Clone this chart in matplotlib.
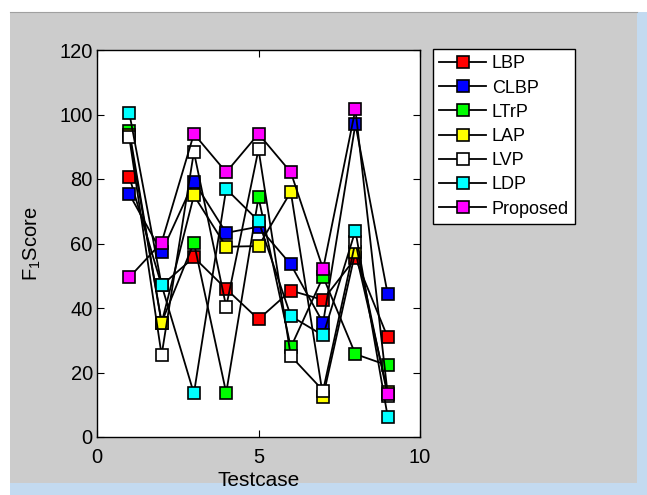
import matplotlib
matplotlib.use("Agg")
import matplotlib.pyplot as plt
from matplotlib.patches import Rectangle
from matplotlib.lines import Line2D

plt.rcParams['font.family'] = ['Liberation Sans', 'DejaVu Sans']
plt.rcParams['mathtext.default'] = 'regular'

testcases = [1, 2, 3, 4, 5, 6, 7, 8, 9]
series_names = ["LBP", "CLBP", "LTrP", "LAP", "LVP", "LDP", "Proposed"]
series_colors = ["#FF0000", "#0000FF", "#00FF00", "#FFFF00", "#FFFFFF", "#00FFFF", "#FF00FF"]

lbp      = [80.7, 47.0, 55.7, 45.9, 36.5, 45.4, 42.5, 55.5, 30.9]
clbp     = [75.3, 57.3, 79.2, 63.3, 65.2, 53.5, 35.4, 97.0, 44.3]
ltrp     = [95.0, 35.5, 60.3, 13.7, 74.3, 27.8, 49.7, 25.7, 22.2]
lap      = [93.5, 35.4, 74.9, 59.0, 59.2, 76.0, 12.5, 57.5, 14.0]
lvp      = [92.9, 25.4, 88.4, 40.4, 89.2, 25.1, 14.4, 60.5, 12.8]
ldp      = [100.5, 47.1, 13.5, 76.9, 67.0, 37.5, 31.5, 64.0, 6.3]
proposed = [49.5, 60.3, 94.0, 82.1, 94.0, 82.1, 52.1, 101.6, 13.3]

all_series = [lbp, clbp, ltrp, lap, lvp, ldp, proposed]

W, H = 647, 495
fig = plt.figure(figsize=(W / 100, H / 100), dpi=100, facecolor="white")

# window background (screenshot frame)
fig.patches.append(Rectangle((10 / W, 0), 627 / W, 483 / H, transform=fig.transFigure,
                             facecolor="#CCCCCC", edgecolor="none", zorder=-10))
fig.patches.append(Rectangle((10 / W, 0), 637 / W, 12 / H, transform=fig.transFigure,
                             facecolor="#C3DAF0", edgecolor="none", zorder=-10))
fig.patches.append(Rectangle((637 / W, 0), 10 / W, 483 / H, transform=fig.transFigure,
                             facecolor="#C3DAF0", edgecolor="none", zorder=-10))
fig.lines.append(Line2D([10 / W, 637 / W], [483 / H, 483 / H], transform=fig.transFigure,
                        color="#A0A0A0", linewidth=0.8))

ax = fig.add_axes([97 / W, (H - 437) / H, 323 / W, 387 / H])
ax.set_facecolor("white")

for name, color, vals in zip(series_names, series_colors, all_series):
    ax.plot(testcases, vals, color="black", linewidth=1.3, marker="s",
            markersize=8.5, markerfacecolor=color, markeredgecolor="black",
            markeredgewidth=1.2, label=name)

ax.set_xlim(0, 10)
ax.set_ylim(0, 120)
ax.set_xticks([0, 5, 10])
ax.set_yticks([0, 20, 40, 60, 80, 100, 120])
ax.tick_params(direction="in", length=5, width=0.8, top=True, right=True,
               labelsize=14.5)
ax.tick_params(axis="y", pad=3)
ax.tick_params(axis="x", pad=8)
for s in ax.spines.values():
    s.set_linewidth(1.0)

ax.set_xlabel("Testcase", fontsize=15, labelpad=3)
ax.set_ylabel(r"F$_1$Score", fontsize=14.5, labelpad=12)

leg = ax.legend(loc="upper left", bbox_to_anchor=(433 / W, (H - 49) / H),
                bbox_transform=fig.transFigure, fontsize=13, frameon=True,
                fancybox=False, shadow=False, borderpad=0.35, labelspacing=0.40,
                handlelength=2.6, handletextpad=0.3, borderaxespad=0)
leg.get_frame().set_edgecolor("black")
leg.get_frame().set_linewidth(1.0)
leg.get_frame().set_facecolor("white")
leg.get_frame().set_alpha(1)

fig.savefig("out.png", dpi=100, facecolor=fig.get_facecolor())
